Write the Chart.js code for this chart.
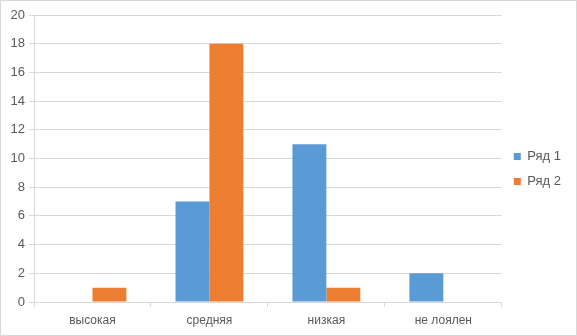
<!DOCTYPE html>
<html>
<head>
<meta charset="utf-8">
<script src="https://cdn.jsdelivr.net/npm/chart.js@4"></script>
<style>
  html, body { margin: 0; padding: 0; background: #fff; }
  #wrap { width: 575px; height: 334px; border: 1px solid #d9d9d9; }
</style>
</head>
<body>
<div id="wrap"><canvas id="chart" width="575" height="334"></canvas></div>
<script>
const categories = ['высокая', 'средняя', 'низкая', 'не лоялен'];
const series1 = [0, 7, 11, 2];
const series2 = [1, 18, 1, 0];
const seriesNames = ['Ряд 1', 'Ряд 2'];

const ctx = document.getElementById('chart').getContext('2d');
const gridColor = '#d9d9d9';
const textColor = '#595959';
const font = { family: 'Liberation Sans, Arial, sans-serif', size: 12 };

// легенду чуть выше, как в оригинале
const legendShift = {
    id: 'legendShift',
    afterLayout(chart) {
        chart.legend.top -= 6;
        chart.legend.bottom -= 6;
    }
};

new Chart(ctx, {
    type: 'bar',
    data: {
        labels: categories,
        datasets: [
            { label: seriesNames[0], data: series1, backgroundColor: '#5b9bd5' },
            { label: seriesNames[1], data: series2, backgroundColor: '#ed7d31' }
        ]
    },
    options: {
        responsive: false,
        animation: false,
        datasets: { bar: { categoryPercentage: 0.58, barPercentage: 1 } },
        layout: { padding: { top: 14, right: 5, left: 0, bottom: 0 } },
        plugins: {
            legend: {
                position: 'right',
                labels: {
                    boxWidth: 7, boxHeight: 7, padding: 12,
                    color: textColor, font: { family: font.family, size: 13 }
                }
            },
            tooltip: { enabled: false }
        },
        scales: {
            x: {
                grid: { offset: true, drawOnChartArea: false, color: gridColor, tickLength: 5 },
                border: { color: gridColor },
                ticks: { color: textColor, font: font, padding: 6 },
                afterFit: s => { s.height = 33; }
            },
            y: {
                min: 0, max: 20,
                ticks: { stepSize: 2, color: textColor, font: { family: font.family, size: 13 }, padding: 4 },
                grid: { color: gridColor, tickLength: 5 },
                border: { color: gridColor },
                afterFit: s => { s.width = 33; }
            }
        }
    },
    plugins: [legendShift]
});
</script>
</body>
</html>
